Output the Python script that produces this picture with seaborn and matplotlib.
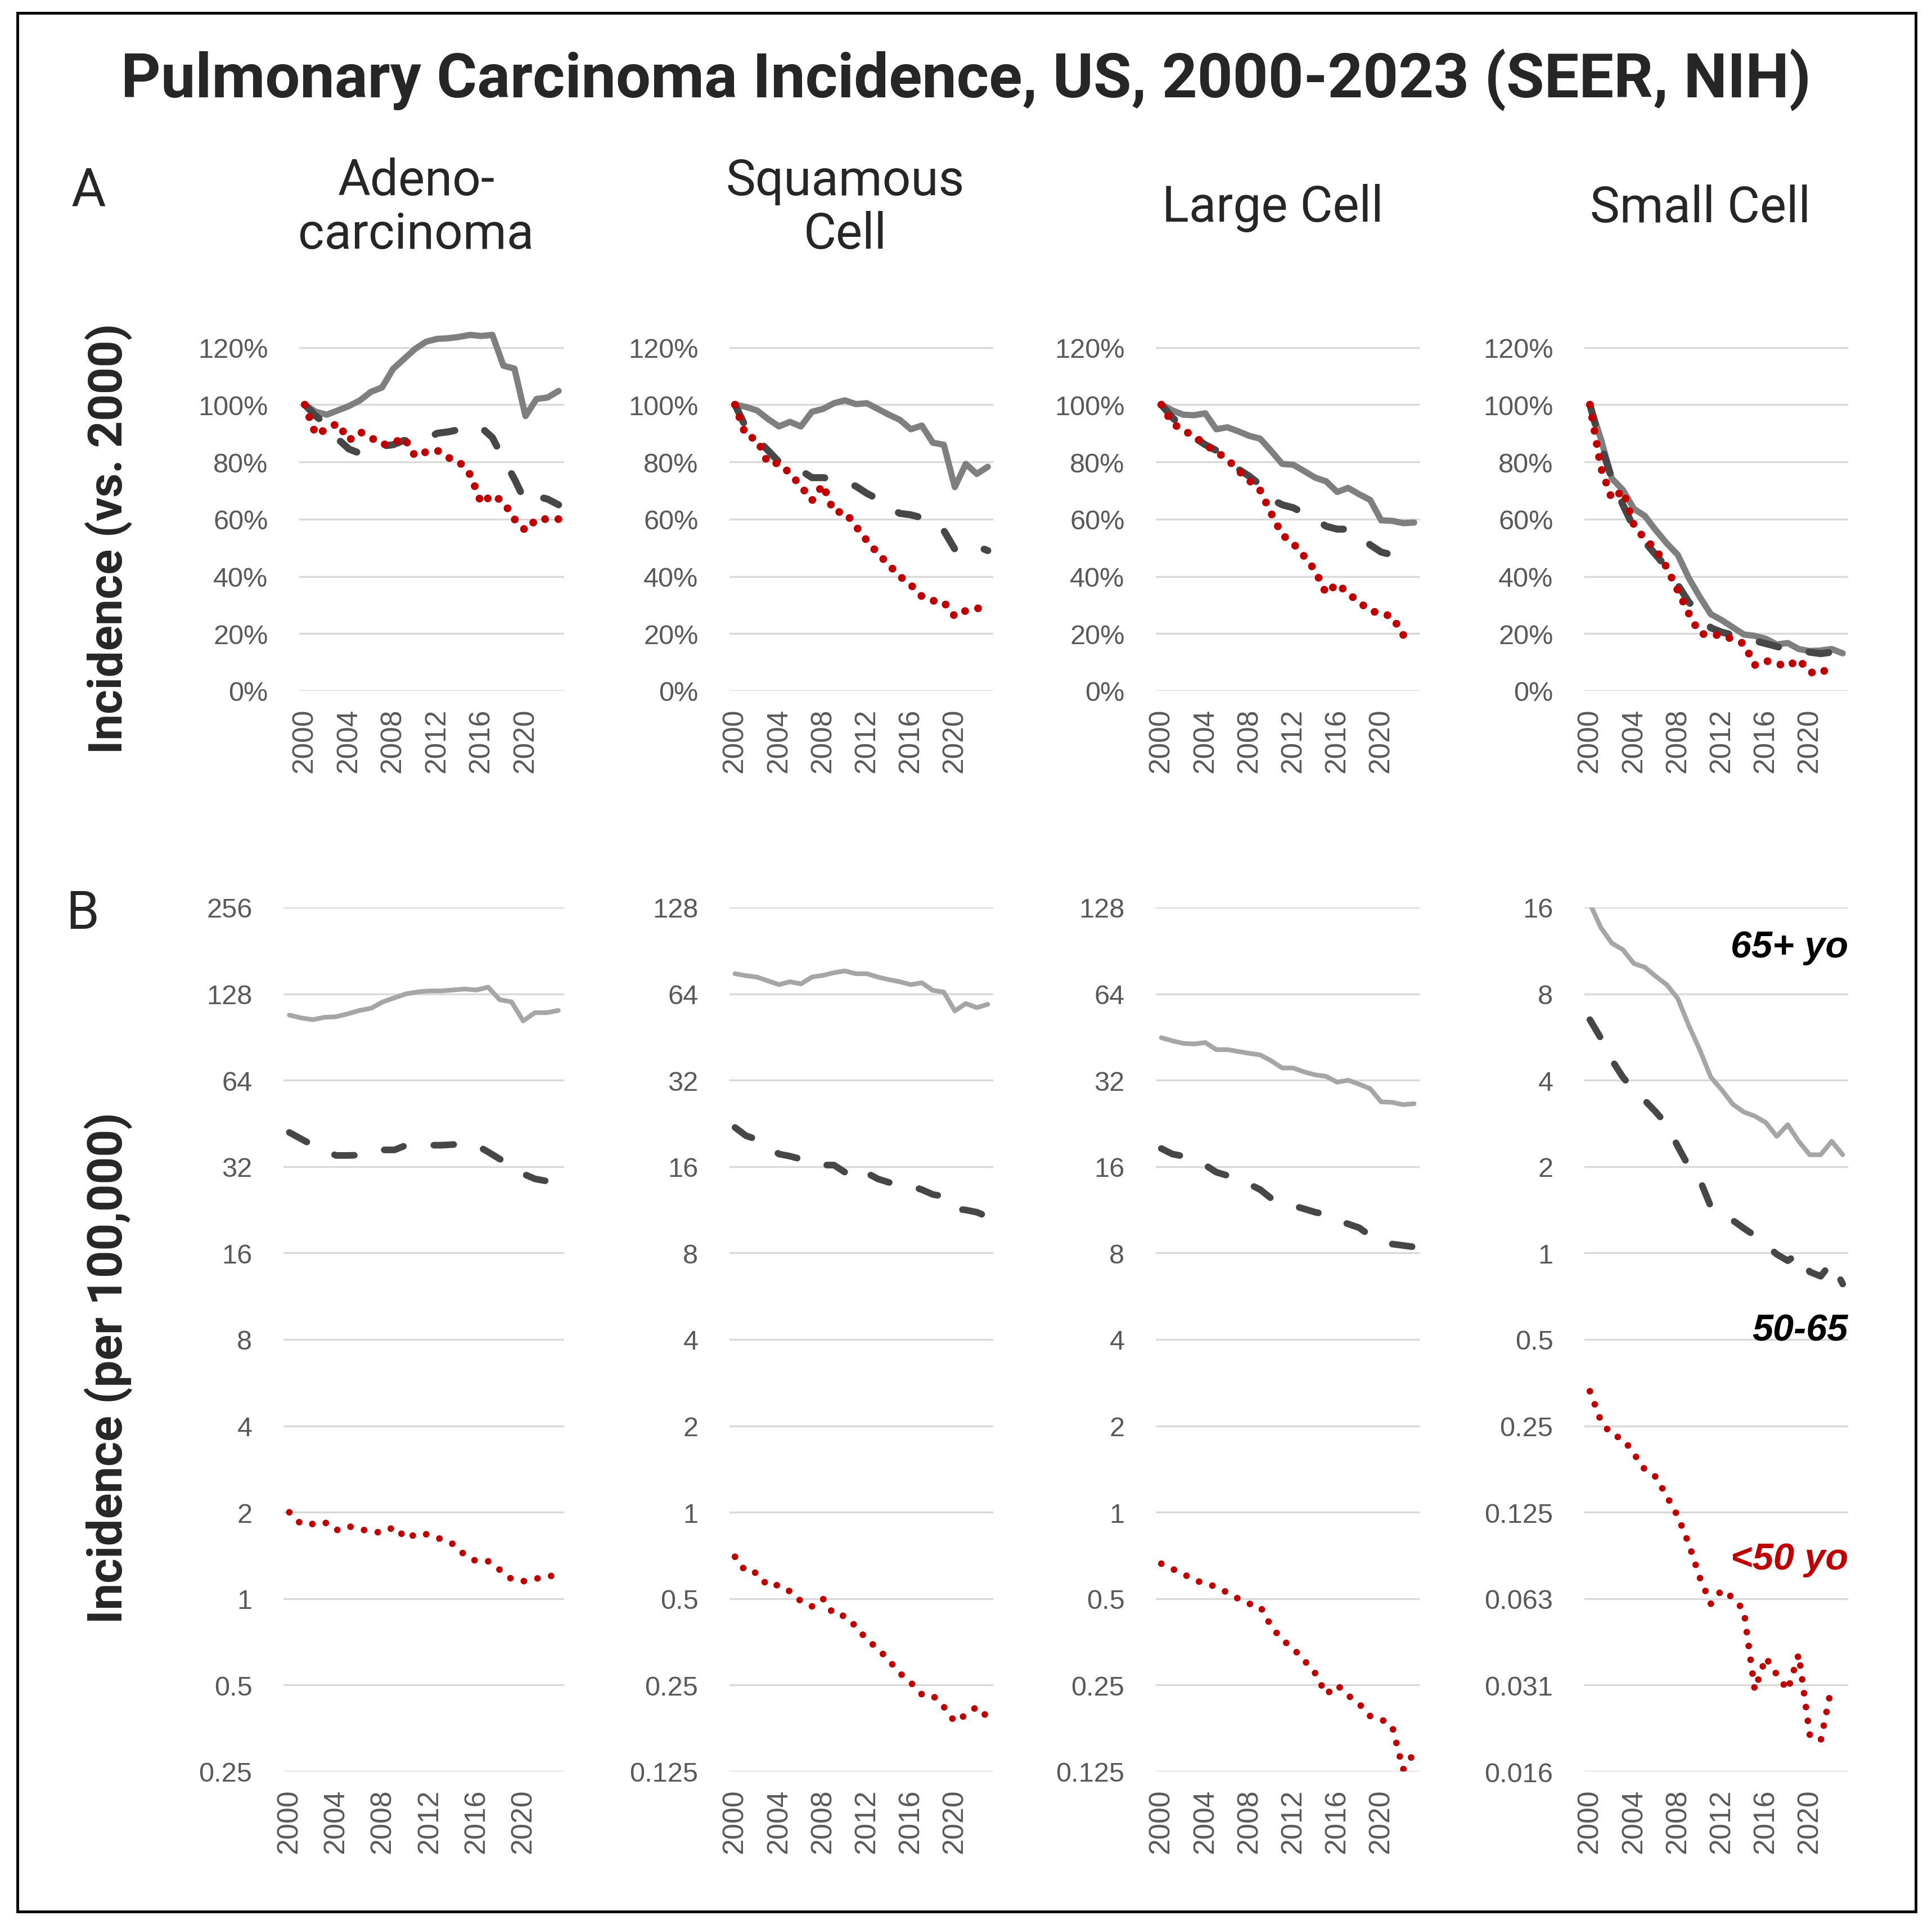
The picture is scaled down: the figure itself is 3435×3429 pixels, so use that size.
import matplotlib
matplotlib.use("Agg")
import math
import pandas as pd
import matplotlib.pyplot as plt
import matplotlib.ticker as mtick
from matplotlib.patches import Rectangle
import seaborn as sns

sns.set_style("white")
plt.rcParams['font.family'] = ['Liberation Sans', 'DejaVu Sans']

nan = float('nan')
years = list(range(2000, 2024))
groups = ["65+", "50-65", "<50"]
categories = ["Adeno-\ncarcinoma", "Squamous\nCell", "Large Cell", "Small Cell"]

# Panel A - incidence relative to 2000 (%)
adeno_a_65 = [100, 97.5, 96.5, 98, 99.5, 101.5, 104.5, 106, 112.5, 116, 119.5, 122,
              123, 123.2, 123.7, 124.4, 124, 124.4, 113.6, 112.6, 96, 102, 102.5, 104.8]
adeno_a_50 = [100, 96, 93, 88, 84.5, 83, 83.5, 85.5, 86, 87.5, 87, 88,
              90, 90.5, 91.3, 92, 92, 88.5, 81, 74, 66, 68, 67, 65]
adeno_a_lt = [100, 89.5, 91.5, 93.5, 87.5, 90.5, 88.5, 86, 86.5, 88.5, 82, 83.5,
              84, 81.5, 80, 75.5, 65.5, 68.5, 66, 60, 56, 60, 60, 60]

squam_a_65 = [100, 99.2, 98, 95, 92.4, 94, 92.4, 97.5, 98.5, 100.5, 101.5, 100.2,
              100.5, 98.5, 96.5, 94.7, 91.4, 92.7, 86.7, 86, 71.2, 79.3, 75.8, 78.3]
squam_a_50 = [100, 92, 88, 84, 80, 79, 77, 74.5, 74.5, 74, 73, 71.5,
              69, 67, 64, 62, 61.5, 60.5, 57, 56, 49.5, 51, 50.5, 49]
squam_a_lt = [100, 89, 88, 79.5, 79.5, 76, 71.5, 66.5, 72, 62.5, 62.5, 57.5,
              52.5, 48, 44, 40, 37, 33, 31.5, 31, 26, 28, 28.8, 29]

large_a_65 = [100, 98, 96.5, 96.3, 97, 91.4, 92.1, 90.7, 89.1, 88.1, 83.8, 79.3,
              79, 76.8, 74.5, 73.2, 69.5, 70.9, 68.7, 66.7, 59.6, 59.4, 58.6, 58.8]
large_a_50 = [100, 95.5, 92, 88.5, 86, 84, 80.5, 77.5, 75, 72, 67, 65,
              64, 62, 60, 57.5, 56.5, 56.5, 54.5, 51, 48.5, 47.5, 46, 44.5]
large_a_lt = [100, 93.5, 91, 89, 86, 83.5, 81, 77, 73.5, 70, 62, 54.5,
              51.5, 47, 42, 34, 37.5, 34, 31, 28, 27, 26, 19.5, 22]

small_a_65 = [100, 88, 74.2, 70.2, 63.6, 61.1, 56.1, 51.5, 47.5, 39.4, 32.8, 26.8,
              24.7, 22.2, 19.7, 19.2, 18.2, 16.2, 16.7, 14.6, 13.9, 14.1, 14.6, 13.1]
small_a_50 = [100, 86, 74, 65, 57, 52, 47.5, 43, 37, 31, 27, 22,
              20.5, 19.5, 18.5, 17.5, 16.5, 15.5, 14.5, 14.8, 13.5, 13, 13.5, 11]
small_a_lt = [100, 78, 67, 70, 58, 53, 49.5, 43, 35, 27, 20, 19.5,
              19.5, 18, 16.5, 9, 10.5, 9.5, 8.5, 11, 6.5, 6, 9, nan]

# Panel B - incidence per 100,000
adeno_b_65 = [107.9, 105.5, 104, 106, 106.5, 109, 112, 114, 120, 124, 128, 130,
              131, 131, 132, 133, 132, 135, 122, 120, 103, 110, 110, 112]
adeno_b_50 = [42.1, 40, 38, 36.5, 35, 35, 35.1, 36, 36.6, 36.6, 38, 38,
              38, 38, 38.2, 38.4, 38, 36, 34, 32.3, 30.2, 29, 28.5, 27.6]
adeno_b_lt = [2.0, 1.82, 1.82, 1.85, 1.73, 1.79, 1.75, 1.71, 1.70, 1.78, 1.62, 1.69,
              1.67, 1.61, 1.55, 1.42, 1.35, 1.35, 1.26, 1.17, 1.15, 1.17, 1.20, 1.20]

squam_b_65 = [75.2, 74, 73.2, 71, 68.9, 70.5, 69.3, 73.2, 74.2, 75.8, 76.9, 75.2,
              75.2, 73.2, 71.7, 70.5, 68.9, 69.9, 65.8, 64.9, 55.8, 59.2, 57.3, 58.8]
squam_b_50 = [21.9, 20.5, 19.9, 18.8, 17.7, 17.4, 17.0, 16.6, 16.2, 16.2, 15.3, 16.1,
              15.2, 14.5, 14.1, 13.9, 13.7, 13.3, 12.8, 12.6, 11.4, 11.3, 11.1, 10.7]
squam_b_lt = [0.70, 0.62, 0.615, 0.553, 0.558, 0.53, 0.49, 0.47, 0.50, 0.44, 0.435, 0.40,
              0.36, 0.335, 0.305, 0.275, 0.255, 0.232, 0.23, 0.21, 0.186, 0.197, 0.21, 0.193]

large_b_65 = [45.0, 43.9, 43.0, 42.8, 43.3, 40.9, 40.9, 40.3, 39.7, 39.2, 37.4, 35.3,
              35.3, 34.2, 33.4, 33.0, 31.5, 32.0, 31.0, 29.9, 26.9, 26.8, 26.3, 26.5]
large_b_50 = [18.5, 17.7, 17.4, 16.8, 16.2, 15.3, 14.9, 14.6, 13.9, 13.3, 12.4, 12.0,
              11.7, 11.4, 11.1, 10.9, 10.4, 10.1, 9.8, 9.2, 8.8, 8.6, 8.5, 8.4]
large_b_lt = [0.662, 0.635, 0.61, 0.58, 0.565, 0.55, 0.525, 0.50, 0.48, 0.47, 0.40, 0.36,
              0.335, 0.305, 0.275, 0.232, 0.25, 0.23, 0.215, 0.195, 0.19, 0.18, 0.127, 0.145]

small_b_65 = [16.5, 13.6, 12.0, 11.4, 10.2, 9.9, 9.2, 8.6, 7.7, 6.2, 5.1, 4.1,
              3.7, 3.3, 3.1, 3.0, 2.85, 2.55, 2.8, 2.45, 2.2, 2.2, 2.45, 2.2]
small_b_50 = [6.5, 5.6, 4.7, 4.1, 3.7, 3.4, 3.1, 2.8, 2.35, 2.0, 1.8, 1.45,
              1.36, 1.3, 1.22, 1.15, 1.07, 0.99, 0.94, 1.0, 0.86, 0.83, 0.93, 0.78]
small_b_lt = [0.33, 0.26, 0.232, 0.226, 0.20, 0.176, 0.166, 0.142, 0.121, 0.097, 0.074, 0.060,
              0.067, 0.063, 0.057, 0.030, 0.039, 0.034, 0.030, 0.040, 0.021, 0.020, 0.031, nan]

panel_a = [[adeno_a_65, adeno_a_50, adeno_a_lt], [squam_a_65, squam_a_50, squam_a_lt],
           [large_a_65, large_a_50, large_a_lt], [small_a_65, small_a_50, small_a_lt]]
panel_b = [[adeno_b_65, adeno_b_50, adeno_b_lt], [squam_b_65, squam_b_50, squam_b_lt],
           [large_b_65, large_b_50, large_b_lt], [small_b_65, small_b_50, small_b_lt]]

rows = []
for panel, block in (("A", panel_a), ("B", panel_b)):
    for cat, series in zip(categories, block):
        for grp, vals in zip(groups, series):
            for yr, v in zip(years, vals):
                rows.append({"panel": panel, "cat": cat, "group": grp, "year": yr, "value": v})
df = pd.DataFrame(rows)

# line styles (colour, width, linestyle) per panel / group
RED = "#C00000"
styles = {
    "A": {"65+": ("#7F7F7F", 8, "-"),
          "50-65": ("#474747", 9, (0, (2.85, 4.45))),
          "<50": (RED, 10, (0, (0.001, 1.7)))},
    "B": {"65+": ("#A6A6A6", 6, "-"),
          "50-65": ("#474747", 8.5, (0, (3.0, 4.6))),
          "<50": (RED, 8.5, (0, (0.001, 2.1)))},
}

W, H = 3435, 3430
fig = plt.figure(figsize=(W / 100, H / 100), dpi=100)


def rect(left, right, top, bottom):
    return [left / W, 1 - bottom / H, (right - left) / W, (bottom - top) / H]


cols_a = [(532, 1003), (1297, 1766), (2055, 2524), (2817, 3286)]
cols_b = [(504, 1003), (1297, 1766), (2055, 2524), (2817, 3286)]
a_top, a_bot = 583, 1229
b_top, b_bot = 1614, 3150
b_lims = [(2 ** -2, 2 ** 8), (2 ** -3, 2 ** 7), (2 ** -3, 2 ** 7), (2 ** -6, 2 ** 4)]

TICK_C = "#595959"
GRID_C = "#D9D9D9"


def log_label(v, pos):
    if v >= 1:
        return f"{int(round(v))}"
    s = f"{math.floor(v * 1000 + 0.5) / 1000:.3f}"
    return s.rstrip("0")


def style_axis(ax):
    for sp in ax.spines.values():
        sp.set_visible(False)
    ax.set_xlim(1999.5, 2023.5)
    ax.set_xticks(range(2000, 2021, 4))
    ax.tick_params(axis="x", length=0, labelsize=37, labelcolor=TICK_C, pad=22, labelrotation=90)
    ax.tick_params(axis="y", length=0, labelsize=35, labelcolor=TICK_C, pad=40)
    ax.grid(False)
    ax.yaxis.grid(True, color=GRID_C, linewidth=2.4)
    ax.set_axisbelow(True)
    ax.set_xlabel("")
    ax.set_ylabel("")


def draw(ax, panel, cat):
    sub = df[(df.panel == panel) & (df.cat == cat)]
    for grp in groups:
        color, lw, ls = styles[panel][grp]
        sns.lineplot(data=sub[sub.group == grp], x="year", y="value", ax=ax,
                     color=color, linewidth=lw, linestyle=ls, estimator=None,
                     solid_capstyle="round", dash_capstyle="round",
                     solid_joinstyle="round", dash_joinstyle="round")


axes_b = []
for i, cat in enumerate(categories):
    ax = fig.add_axes(rect(cols_a[i][0], cols_a[i][1], a_top, a_bot))
    draw(ax, "A", cat)
    style_axis(ax)
    ax.set_ylim(0, 127)
    ax.set_yticks(range(0, 121, 20))
    ax.yaxis.set_major_formatter(mtick.FuncFormatter(lambda v, p: f"{v:.0f}%"))

    ax = fig.add_axes(rect(cols_b[i][0], cols_b[i][1], b_top, b_bot))
    draw(ax, "B", cat)
    style_axis(ax)
    ax.set_yscale("log", base=2)
    lo, hi = b_lims[i]
    ax.set_ylim(lo, hi)
    ax.yaxis.set_major_locator(mtick.FixedLocator([2.0 ** k for k in range(round(math.log2(lo)), round(math.log2(hi)) + 1)]))
    ax.yaxis.set_minor_locator(mtick.NullLocator())
    ax.yaxis.set_major_formatter(mtick.FuncFormatter(log_label))
    axes_b.append(ax)

# group labels inside the small-cell panel
ann_font = ["Liberation Sans", "DejaVu Sans"]
ax4 = axes_b[3]
ax4.text(1.0, 11.6, "65+ yo", transform=ax4.get_yaxis_transform(), ha="right", va="center",
         fontsize=48, fontweight="bold", fontstyle="italic", color="black", family=ann_font)
ax4.text(1.0, 0.536, "50-65", transform=ax4.get_yaxis_transform(), ha="right", va="center",
         fontsize=48, fontweight="bold", fontstyle="italic", color="black", family=ann_font)
ax4.text(1.0, 0.0857, "<50 yo", transform=ax4.get_yaxis_transform(), ha="right", va="center",
         fontsize=48, fontweight="bold", fontstyle="italic", color=RED, family=ann_font)

# titles and labels
head_font = ["Liberation Sans Narrow", "Roboto", "DejaVu Sans"]
bold_font = ["Roboto", "DejaVu Sans"]
fig.text(1717 / W, 1 - 142 / H, "Pulmonary Carcinoma Incidence, US, 2000-2023 (SEER, NIH)",
         ha="center", va="center", fontsize=79, fontweight="bold", family=bold_font)
head_x = [740, 1503, 2263, 3023]
for x, cat in zip(head_x, categories):
    fig.text(x / W, 1 - 370 / H, cat, ha="center", va="center", fontsize=64,
             linespacing=1.15, family=head_font)
fig.text(158 / W, 1 - 340 / H, "A", ha="center", va="center", fontsize=68, family=head_font)
fig.text(147 / W, 1 - 1625 / H, "B", ha="center", va="center", fontsize=68, family=head_font)
fig.text(193 / W, 1 - 957 / H, "Incidence (vs. 2000)", rotation=90, ha="center", va="center",
         fontsize=60, fontweight="bold", family=bold_font)
fig.text(193 / W, 1 - 2432 / H, "Incidence (per 100,000)", rotation=90, ha="center", va="center",
         fontsize=61, fontweight="bold", family=bold_font)

# outer frame
fig.patches.append(Rectangle((31 / W, 31 / H), (3406 - 31) / W, (3406 - 31) / H,
                             transform=fig.transFigure, fill=False, edgecolor="black",
                             linewidth=3.5))

fig.savefig("out.png", dpi=100)
